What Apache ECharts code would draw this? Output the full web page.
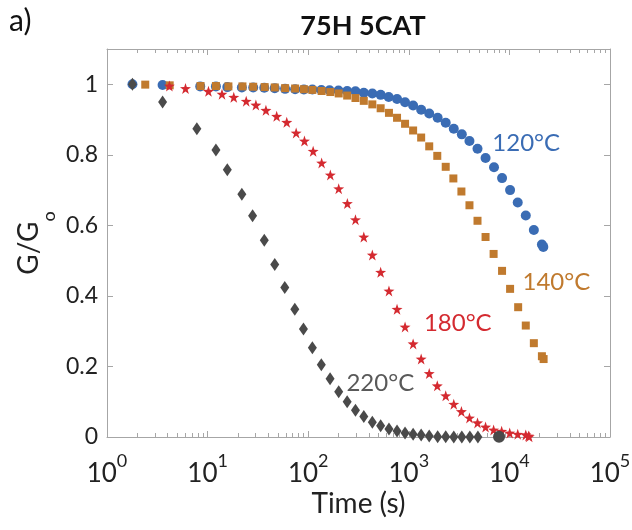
<!DOCTYPE html>
<html><head><meta charset="utf-8">
<script src="https://cdn.jsdelivr.net/npm/echarts@6/dist/echarts.min.js"></script>
<style>html,body{margin:0;padding:0;background:#fff}#c{width:632px;height:530px}</style>
</head><body><div id="c"></div>
<script>
// ---- data ----
const t120 = [1.79,3.57,8.45,12.1,15.7,21.9,28.4,36.6,46.5,58.9,74.1,90.6,110,135,163,200,244,295,357,434,525,631,764,918,1104,1327,1596,1936,2328,2799,3365,4009,4819,5794,7031,8453,10160,12100,14550,17500,21040,21730];
const g120 = [1.0,0.998,0.994,0.994,0.992,0.991,0.991,0.990,0.989,0.987,0.986,0.985,0.985,0.984,0.983,0.982,0.981,0.980,0.976,0.974,0.970,0.964,0.958,0.949,0.940,0.928,0.917,0.905,0.891,0.874,0.858,0.839,0.817,0.791,0.765,0.734,0.700,0.665,0.628,0.587,0.546,0.539];
const t140 = [2.40,4.20,8.51,12.1,16.1,22.2,28.4,36.9,46.5,58.9,74.1,90.6,110,136,166,201,244,295,357,434,525,635,764,918,1104,1327,1596,1919,2328,2773,3334,4009,4819,5794,6966,8453,10160,12220,14550,17500,21040,21880];
const g140 = [0.999,0.997,0.995,0.995,0.994,0.994,0.993,0.992,0.991,0.989,0.988,0.986,0.984,0.981,0.978,0.974,0.968,0.961,0.953,0.943,0.932,0.919,0.905,0.888,0.869,0.849,0.824,0.797,0.766,0.733,0.696,0.657,0.613,0.567,0.519,0.471,0.420,0.368,0.316,0.266,0.229,0.221];
const t180 = [4.17,6.03,10.2,13.9,18.2,24.2,30.2,38.0,48.6,61.2,75.9,91.8,112,136,166,201,245,295,357,434,525,635,764,918,1104,1327,1596,1919,2328,2799,3334,4009,4819,5794,6966,8375,10070,12100,14550,15490,15740];
const g180 = [0.995,0.988,0.980,0.972,0.963,0.952,0.941,0.926,0.909,0.892,0.862,0.839,0.810,0.777,0.743,0.704,0.662,0.616,0.567,0.516,0.467,0.414,0.362,0.312,0.264,0.221,0.180,0.145,0.117,0.093,0.072,0.054,0.040,0.028,0.020,0.016,0.011,0.008,0.006,0.003,0.001];
const t220 = [1.79,3.57,7.82,12.1,15.7,21.9,28.0,36.6,46.5,58.5,73.6,89.7,110,135,165,201,244,295,357,434,525,635,764,918,1104,1327,1596,1936,2328,2799,3365,4046,4864,7889];
const g220 = [1.0,0.950,0.874,0.814,0.758,0.688,0.627,0.558,0.489,0.424,0.362,0.306,0.253,0.205,0.165,0.128,0.100,0.076,0.058,0.042,0.032,0.023,0.017,0.011,0.008,0.006,0.003,0.001,0.001,0,0,0,0,0.001];
const seriesNames = ['120°C','140°C','180°C','220°C'];
const yTicks = [0,0.2,0.4,0.6,0.8,1];
// annotation anchors (data coords: time, G/Go)
const labelAnchor = [[6760,0.833],[13490,0.439],[1413,0.323],[240,0.153]];

// ---- styles ----
const FONT = 'Lato';
const colors = ['#3a6cb4','#c07a2e','#d42a30','#4a4a4a'];
const labelColors = ['#3a6cb4','#c07a2e','#d42a30','#595959'];
const symbols = ['circle','rect','path://M50,0 L61.8,36.2 L100,38.2 L69.1,61.8 L80.9,100 L50,76.4 L19.1,100 L30.9,61.8 L0,38.2 L38.2,36.2 Z','diamond'];
const sizes = [10,8,11,[9,13]];
const frameColor = '#a6a6a6';

const pairs = (t,g)=>t.map((x,i)=>[x,g[i]]);
const dataSets = [pairs(t120,g120),pairs(t140,g140),pairs(t180,g180),pairs(t220,g220)];
// last grey point is drawn as a larger round marker in the reference
const lastGrey = dataSets[3].length-1;
dataSets[3][lastGrey] = {value:dataSets[3][lastGrey], symbol:'circle', symbolSize:12};

const series = dataSets.map((d,i)=>({
  type:'scatter', name:seriesNames[i], data:d, symbol:symbols[i], symbolSize:sizes[i],
  itemStyle:{color:colors[i], opacity:1}, z: 2+i, clip:false,
  markPoint:{
    symbol:'circle', symbolSize:0, silent:true,
    data:[{coord:labelAnchor[i]}],
    label:{show:true, position:'right', distance:0, formatter:seriesNames[i],
      fontFamily:FONT, fontSize:24, color:labelColors[i], align:'left', verticalAlign:'middle'}
  }
}));

const xBase = {type:'log', logBase:10, min:1, max:100000, gridIndex:0};
const lineCfg = {show:true, onZero:false, lineStyle:{color:frameColor, width:1}};
const tickCfg = {show:true, inside:true, length:6, lineStyle:{color:frameColor}};
const minorCfg = {show:true, splitNumber:9, length:4, lineStyle:{color:frameColor}};
const chart = echarts.init(document.getElementById('c'), null, {renderer:'canvas'});
chart.setOption({
  animation:false,
  backgroundColor:'#fff',
  title:[
    {text:'75H 5CAT', left:358, top:8, textAlign:'center',
     textStyle:{fontFamily:FONT, fontWeight:'bold', fontSize:27, color:'#111'}},
    {text:'a)', left:4, top:1, textStyle:{fontFamily:FONT, fontWeight:'normal', fontSize:30, color:'#111'}}
  ],
  grid:{left:107, right:22, top:49, bottom:93, containLabel:false, outerBoundsMode:'none'},
  xAxis:[
    Object.assign({}, xBase, {
      position:'bottom',
      name:'Time (s)', nameLocation:'middle', nameGap:53, nameMoveOverlap:false,
      nameTextStyle:{fontFamily:FONT, fontSize:28, color:'#222'},
      axisLine:lineCfg, axisTick:tickCfg, minorTick:minorCfg,
      splitLine:{show:false},
      axisLabel:{margin:24, formatter:v=>'{b|10}{s|'+Math.round(Math.log10(v))+'}',
        rich:{b:{fontFamily:FONT, fontSize:26, color:'#222', lineHeight:26},
              s:{fontFamily:FONT, fontSize:18, color:'#222', lineHeight:18, padding:[0,0,26,0]}}}
    }),
    Object.assign({}, xBase, {
      position:'top',
      axisLine:lineCfg, axisTick:tickCfg, minorTick:minorCfg,
      splitLine:{show:false}, axisLabel:{show:false}
    })
  ],
  yAxis:[
    {type:'value', min:0, max:1.1, interval:0.2, position:'left',
     name:'{a|G/G}{o|o}', nameLocation:'middle', nameGap:64, nameRotate:90, nameMoveOverlap:false,
     nameTextStyle:{rich:{
       a:{fontFamily:FONT, fontSize:28, color:'#222', lineHeight:28},
       o:{fontFamily:FONT, fontSize:18, color:'#222', lineHeight:18, padding:[40,0,0,0]}}},
     axisLine:lineCfg, axisTick:tickCfg,
     splitLine:{show:false},
     axisLabel:{margin:9, fontFamily:FONT, fontSize:23, color:'#222', showMaxLabel:false,
       formatter:v=>yTicks.indexOf(Math.round(v*10)/10)>=0 ? String(Math.round(v*10)/10) : ''}},
    {type:'value', min:0, max:1.1, interval:0.2, position:'right',
     axisLine:lineCfg, axisTick:tickCfg,
     splitLine:{show:false}, axisLabel:{show:false}}
  ],
  series: series
});
</script>
</body></html>
